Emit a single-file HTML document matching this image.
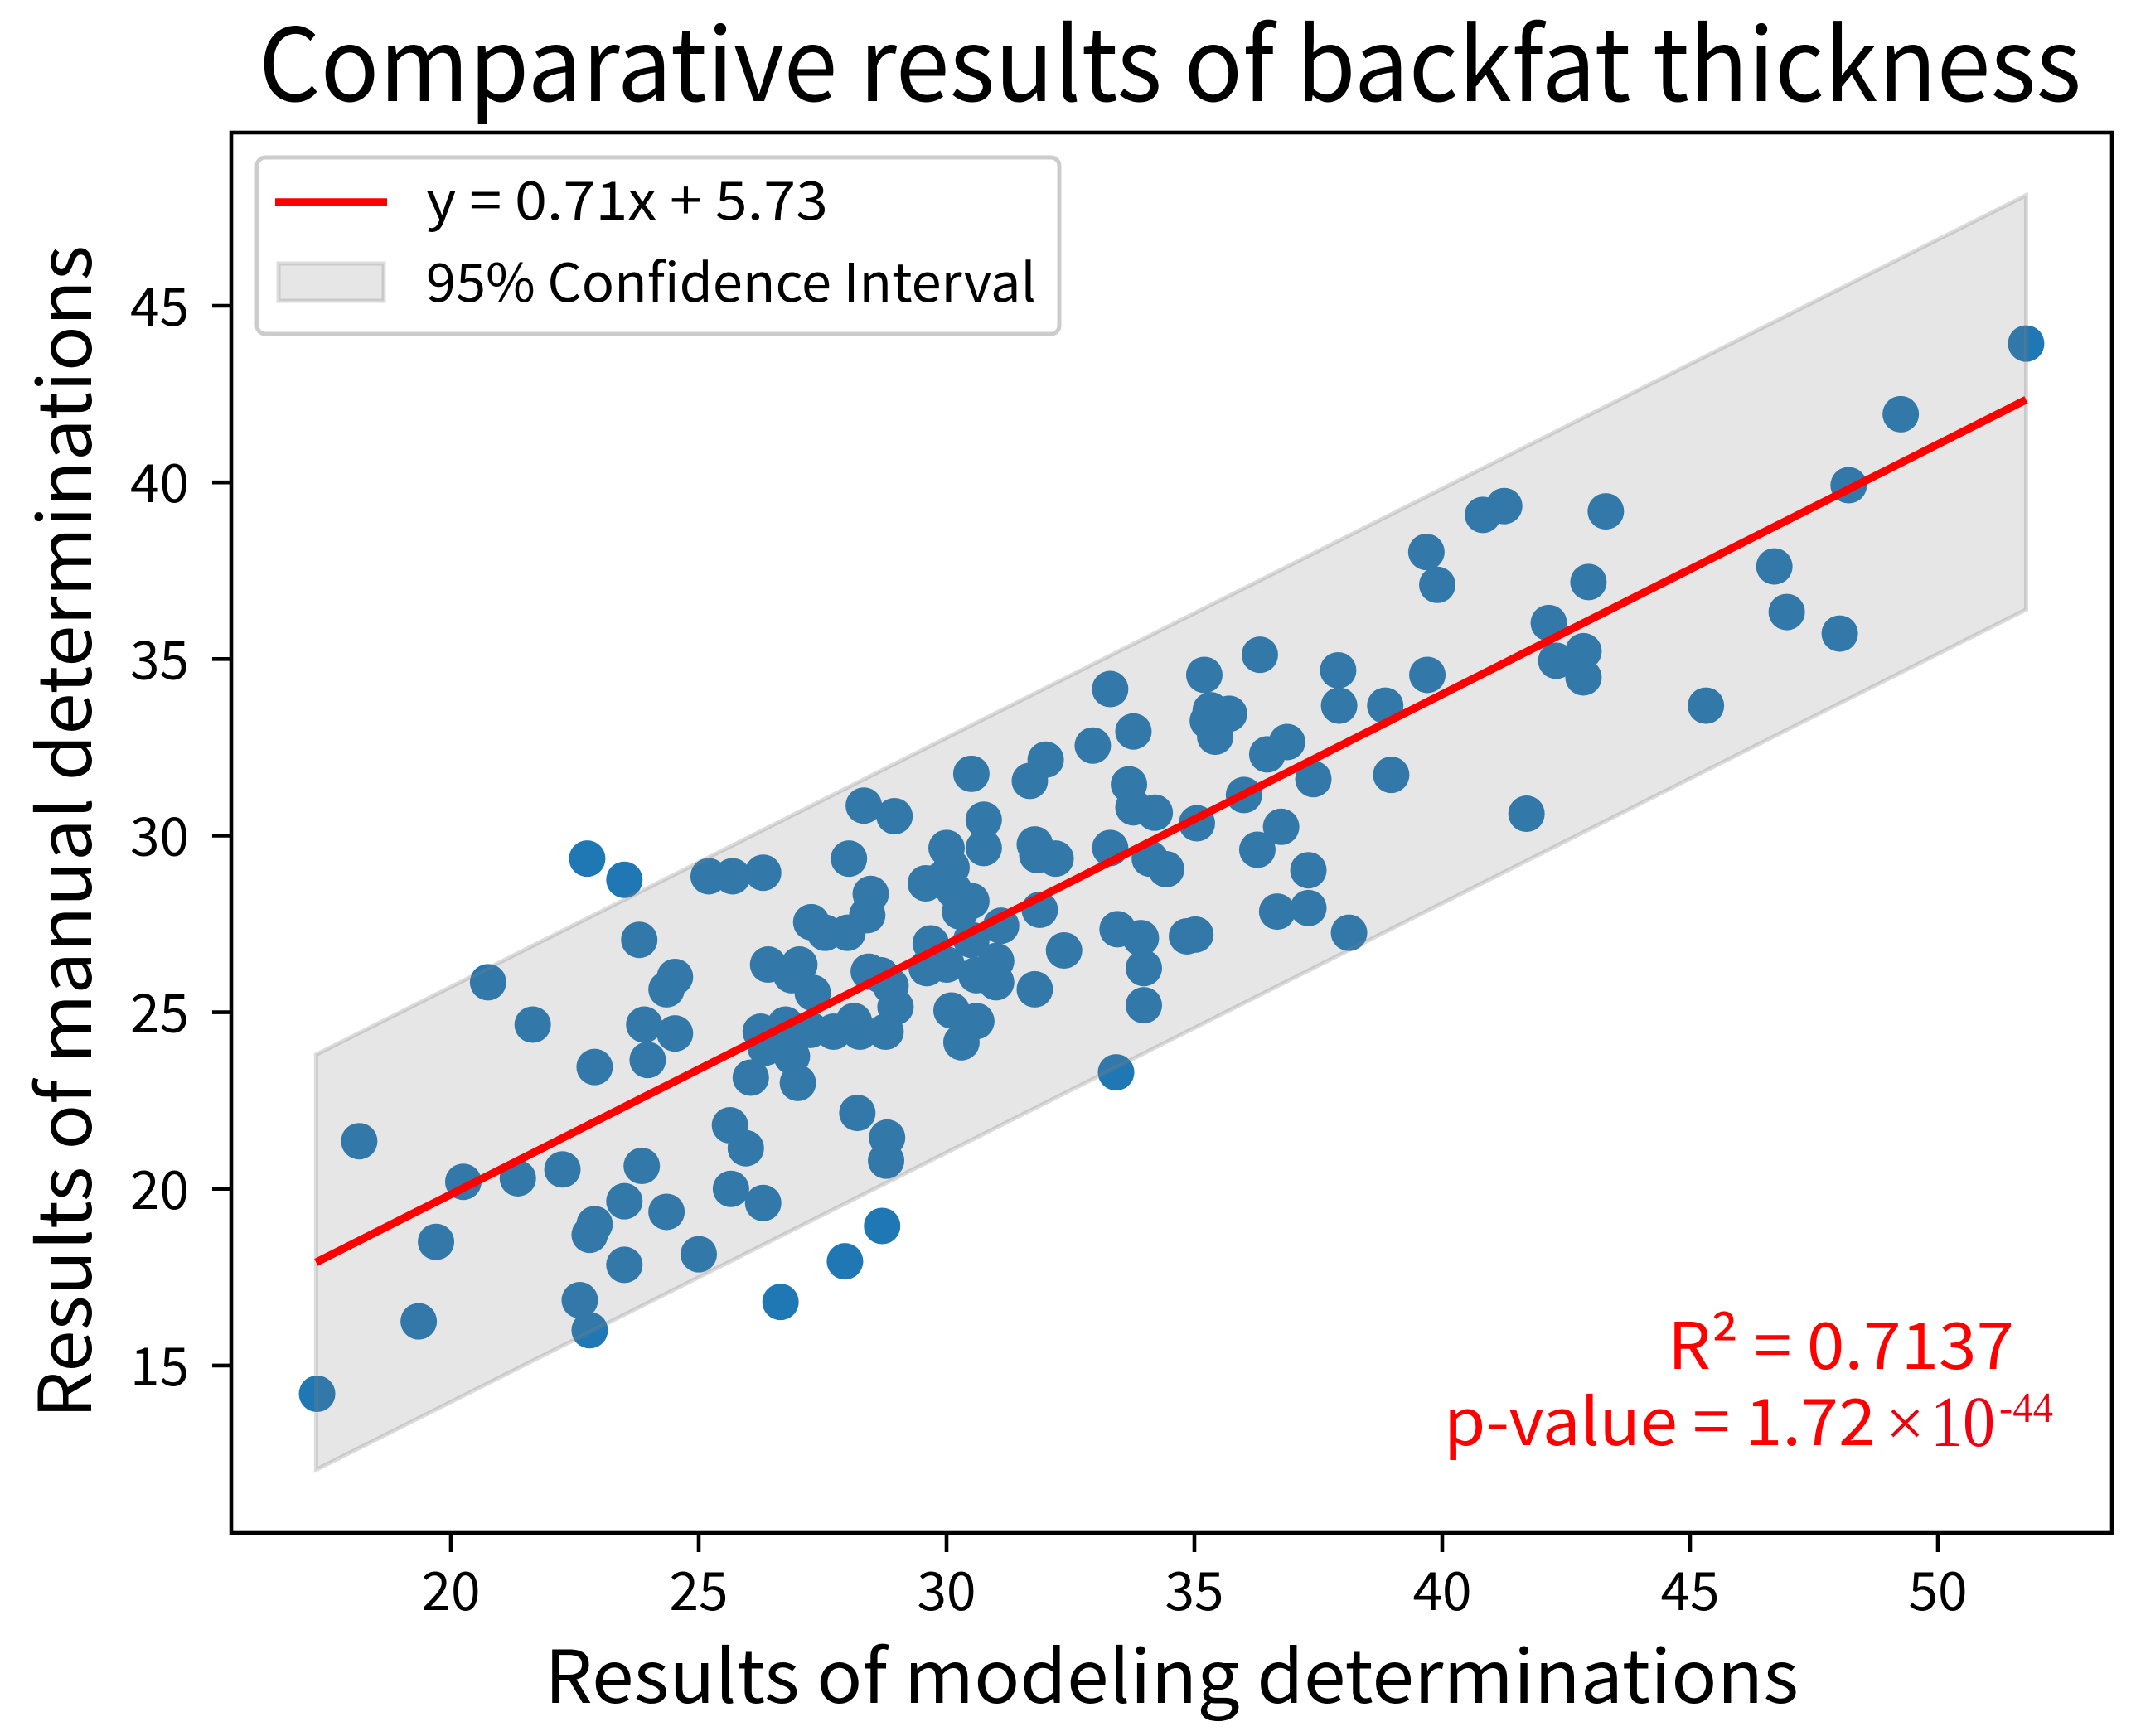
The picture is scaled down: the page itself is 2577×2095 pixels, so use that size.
<!DOCTYPE html>
<html lang="en">
<head>
<meta charset="utf-8">
<title>Comparative results of backfat thickness</title>
<style>
html,body{margin:0;padding:0;background:#fff;width:2577px;height:2095px;overflow:hidden}
svg{display:block}
text{font-family:"Noto Sans CJK SC","Liberation Sans",sans-serif;fill:#000}
</style>
</head>
<body>
<svg id="chart" xmlns="http://www.w3.org/2000/svg" width="2577" height="2095" viewBox="0 0 2577 2095">
  <rect x="0" y="0" width="2577" height="2095" fill="#fff"/>
  <g id="points"></g>
  <polygon id="band" fill="#808080" fill-opacity="0.2" stroke="#808080" stroke-opacity="0.28" stroke-width="5"></polygon>
  <line id="fit" stroke="#ff0000" stroke-width="9.5"></line>
  <rect x="279" y="160" width="2269" height="1690" fill="none" stroke="#000" stroke-width="4.6"/>
  <g id="xticks"></g>
  <g id="yticks"></g>

  <text x="312" y="122" font-size="122" textLength="2199" lengthAdjust="spacingAndGlyphs">Comparative results of backfat thickness</text>
  <text x="657" y="2055" font-size="88" textLength="1513" lengthAdjust="spacingAndGlyphs">Results of modeling determinations</text>
  <text transform="translate(110,1712) rotate(-90)" font-size="88" textLength="1416" lengthAdjust="spacingAndGlyphs">Results of manual determinations</text>

  <g>
    <rect x="310" y="190" width="968" height="213" rx="10" ry="10" fill="#fff" fill-opacity="0.8" stroke="#cccccc" stroke-width="5"/>
    <line x1="332" y1="244" x2="467" y2="244" stroke="#ff0000" stroke-width="9.5"/>
    <text x="514" y="265" font-size="64" textLength="485" lengthAdjust="spacingAndGlyphs">y = 0.71x + 5.73</text>
    <rect x="336" y="318" width="127" height="45" fill="#808080" fill-opacity="0.2" stroke="#808080" stroke-opacity="0.28" stroke-width="5"/>
    <text x="514" y="364" font-size="64" textLength="736" lengthAdjust="spacingAndGlyphs">95% Confidence Interval</text>
  </g>

  <g>
    <text x="2012" y="1652" font-size="78" textLength="418" lengthAdjust="spacingAndGlyphs" style="fill:#ff0000">R² = 0.7137</text>
    <text x="1742" y="1744" font-size="78" textLength="521" lengthAdjust="spacingAndGlyphs" style="fill:#ff0000">p-value = 1.72</text>
    <text x="2275" y="1745" font-size="83" style="fill:#ee0010;font-family:'Liberation Serif',serif">×</text>
    <text x="2329" y="1745" font-size="87" textLength="78" lengthAdjust="spacingAndGlyphs" style="fill:#ee0010;font-family:'Liberation Serif',serif">10</text>
    <text x="2412" y="1716" font-size="52" textLength="65" lengthAdjust="spacingAndGlyphs" style="fill:#ee0010;font-family:'Liberation Serif',serif">-44</text>
  </g>
</svg>
<script>
const xTickValues = [20, 25, 30, 35, 40, 45, 50];
const yTickValues = [15, 20, 25, 30, 35, 40, 45];
const lineX = [17.28, 51.78];
const lineY = [17.92, 42.34];
const bandUpper = [23.8, 48.13];
const bandLower = [12.05, 36.4];
const pointX = [17.3,18.15,19.35,19.7,20.25,20.75,21.35,21.65,22.25,22.6,22.75,22.8,22.8,22.9,22.9,23.5,23.5,23.5,23.8,23.85,23.9,23.97,24.35,24.35,24.52,24.52,25.0,25.2,25.68,25.65,25.63,25.95,26.05,26.3,26.3,26.25,26.4,26.35,26.65,26.75,26.87,26.88,27.03,27.0,27.27,27.3,27.25,27.55,27.72,27.95,28.03,28.0,28.2,28.13,28.25,28.33,28.4,28.47,28.43,28.7,28.67,28.8,28.78,28.77,28.87,28.97,28.95,29.58,29.68,29.6,30.0,30.1,29.9,30.15,30.0,30.1,30.3,30.27,30.5,30.5,30.5,30.6,30.6,30.75,30.75,31.0,31.0,31.1,31.68,31.78,31.83,31.88,31.78,32.0,32.2,32.37,32.95,33.3,33.3,33.45,33.42,33.77,33.68,33.77,33.92,33.98,33.98,34.1,34.2,34.43,34.85,35.02,35.05,35.2,35.27,35.33,35.42,35.7,36.0,36.27,36.32,36.47,36.67,36.75,36.87,37.3,37.3,37.4,37.9,37.92,38.12,38.85,38.97,39.68,39.7,39.9,40.82,41.25,41.7,42.15,42.3,42.85,42.85,42.95,43.3,45.32,46.7,46.95,48.02,48.2,49.25,51.78];
const pointY = [14.2,21.35,16.25,18.5,20.2,25.85,20.3,24.65,20.55,16.85,29.35,16.0,18.7,19.0,23.45,19.65,17.85,28.75,27.05,20.65,24.65,23.65,19.35,25.65,26.0,24.4,18.15,28.85,28.85,20.0,21.8,21.15,23.15,28.95,19.6,24.45,26.35,24.0,16.8,24.65,26.05,23.75,26.35,23.0,27.55,25.55,24.5,27.25,24.45,17.95,29.35,27.25,22.15,24.75,24.45,30.85,27.75,28.35,26.15,18.95,26.05,21.45,20.8,24.45,25.75,25.15,30.55,28.65,26.95,26.25,29.65,29.1,28.75,28.45,26.35,25.05,24.15,27.85,28.15,31.75,27.05,26.05,24.75,30.45,29.65,26.45,25.85,27.45,31.55,29.75,29.45,27.9,25.65,32.15,29.35,26.75,32.55,34.15,29.65,27.35,23.3,32.95,31.45,30.8,27.1,26.25,25.2,29.35,30.65,29.05,27.15,27.2,30.35,34.55,33.25,33.55,32.8,33.45,31.15,29.6,35.12,32.3,27.85,30.25,32.65,29.02,27.95,31.6,34.68,33.68,27.25,33.68,31.72,38.03,34.55,37.1,39.08,39.33,30.62,36.02,34.95,34.48,35.22,37.18,39.18,33.68,37.62,36.33,35.72,39.92,41.93,43.93];

const SVG_NS = 'http://www.w3.org/2000/svg';
const plot = { xOrigin: 544, xBase: 20, xScale: 59.8, yOrigin: 369, yBase: 45, yScale: 42.63, left: 279, bottom: 1850, tickLen: 23 };
function xAxis(v) { return plot.xOrigin + (v - plot.xBase) * plot.xScale; }
function yAxis(v) { return plot.yOrigin + (plot.yBase - v) * plot.yScale; }

const pointsGroup = document.getElementById('points');
pointX.forEach(function (xv, i) {
  const c = document.createElementNS(SVG_NS, 'circle');
  
  
  c.setAttribute('cx', xAxis(xv));
  c.setAttribute('cy', yAxis(pointY[i]));
  c.setAttribute('r', 22);
  c.setAttribute('fill', '#1f77b4');
  pointsGroup.appendChild(c);
});

const bandPts = [
  [lineX[0], bandUpper[0]], [lineX[1], bandUpper[1]],
  [lineX[1], bandLower[1]], [lineX[0], bandLower[0]]
];
document.getElementById('band').setAttribute('points', bandPts.map(function (p) {
  return xAxis(p[0]) + ',' + yAxis(p[1]);
}).join(' '));

const fit = document.getElementById('fit');
fit.setAttribute('x1', xAxis(lineX[0]));
fit.setAttribute('y1', yAxis(lineY[0]));
fit.setAttribute('x2', xAxis(lineX[1]));
fit.setAttribute('y2', yAxis(lineY[1]));

const xTicks = document.getElementById('xticks');
xTickValues.forEach(function (v) {
  const t = document.createElementNS(SVG_NS, 'line');
  
  
  t.setAttribute('x1', xAxis(v));
  t.setAttribute('x2', xAxis(v));
  t.setAttribute('y1', plot.bottom);
  t.setAttribute('y2', plot.bottom + plot.tickLen);
  t.setAttribute('stroke', '#000');
  t.setAttribute('stroke-width', 4.6);
  xTicks.appendChild(t);
  const l = document.createElementNS(SVG_NS, 'text');
  
  
  l.setAttribute('x', xAxis(v));
  l.setAttribute('y', 1943);
  l.setAttribute('font-size', 64);
  l.setAttribute('text-anchor', 'middle');
  l.textContent = String(v);
  xTicks.appendChild(l);
});

const yTicks = document.getElementById('yticks');
yTickValues.forEach(function (v) {
  const t = document.createElementNS(SVG_NS, 'line');
  
  
  t.setAttribute('x1', plot.left - plot.tickLen);
  t.setAttribute('x2', plot.left);
  t.setAttribute('y1', yAxis(v));
  t.setAttribute('y2', yAxis(v));
  t.setAttribute('stroke', '#000');
  t.setAttribute('stroke-width', 4.6);
  yTicks.appendChild(t);
  const l = document.createElementNS(SVG_NS, 'text');
  
  
  l.setAttribute('x', 228);
  l.setAttribute('y', yAxis(v) + 24);
  l.setAttribute('font-size', 64);
  l.setAttribute('text-anchor', 'end');
  l.textContent = String(v);
  yTicks.appendChild(l);
});
</script>
</body>
</html>
